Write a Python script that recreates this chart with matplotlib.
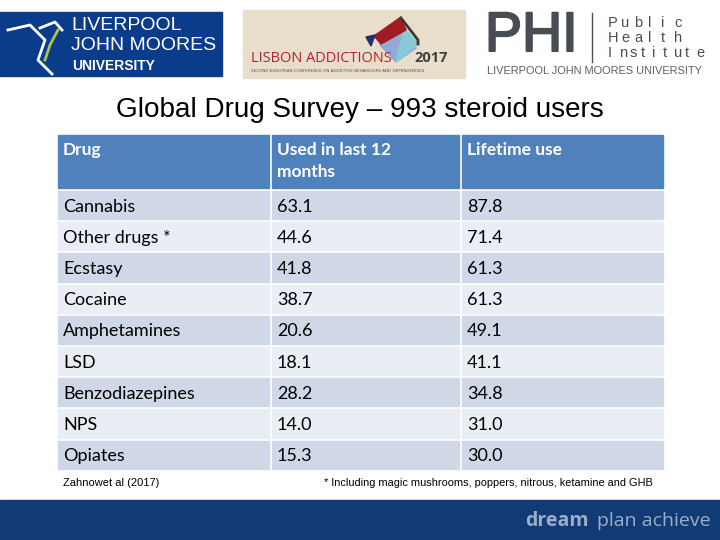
import matplotlib.pyplot as plt
import matplotlib.patheffects as pe
from matplotlib.patches import Rectangle, Polygon

# table data
headers = ["Drug", "Used in last 12\nmonths", "Lifetime use"]
drugs = ["Cannabis", "Other drugs *", "Ecstasy", "Cocaine", "Amphetamines",
         "LSD", "Benzodiazepines", "NPS", "Opiates"]
last_12 = ["63.1", "44.6", "41.8", "38.7", "20.6", "18.1", "28.2", "14.0", "15.3"]
lifetime = ["87.8", "71.4", "61.3", "61.3", "49.1", "41.1", "34.8", "31.0", "30.0"]

title = "Global Drug Survey \u2013 993 steroid users"
source = "Zahnowet al (2017)"
footnote = "* Including magic mushrooms, poppers, nitrous, ketamine and GHB"

fig = plt.figure(figsize=(7.2, 5.4), dpi=100)
ax = fig.add_axes([0, 0, 1, 1])
ax.set_xlim(0, 720)
ax.set_ylim(540, 0)
ax.axis("off")

# --- logos (simplified) ---
# LJMU
ax.add_patch(Rectangle((0, 12), 222, 64, color="#0B3C8C"))
ax.plot([8, 30, 45, 38, 52], [30, 25, 40, 60, 74], color="white", lw=2)
ax.plot([40, 55, 62], [28, 22, 30], color="white", lw=2)
ax.plot([45, 50, 58], [60, 45, 30], color="#A8C64A", lw=2)
ax.text(71, 25, "LIVERPOOL", color="white", fontsize=14, family="Liberation Sans",
        va="center")
ax.text(71, 46, "JOHN MOORES", color="white", fontsize=14, family="Liberation Sans",
        va="center")
ax.text(72, 66, "UNIVERSITY", color="white", fontsize=10, family="Liberation Sans",
        weight="bold", va="center")

# Lisbon Addictions
ax.add_patch(Rectangle((243, 10), 222, 68, color="#E9DDCB"))
ax.add_patch(Polygon([[380, 45], [404, 28], [416, 48], [396, 62]], color="#93A9D6"))
ax.add_patch(Polygon([[404, 28], [418, 44], [396, 62]], color="#8BC8D8"))
ax.add_patch(Polygon([[374, 36], [401, 17], [406, 30], [381, 44]], color="#A11B22"))
ax.add_patch(Polygon([[366, 37], [375, 35], [371, 46]], color="#23306B"))
ax.plot([401, 418, 418], [18, 40, 44], color="#3A3A3A", lw=2)
ax.text(251, 58, "LISBON ADDICTIONS", color="#B0272E", fontsize=10.5, family="Open Sans",
        va="center")
ax.text(414, 58, "2017", color="#404040", fontsize=10.5, family="Open Sans",
        weight="bold", va="center")
ax.text(251, 71, "SECOND EUROPEAN CONFERENCE ON ADDICTIVE BEHAVIOURS AND DEPENDENCIES",
        color="#555555", fontsize=3.0, family="DejaVu Sans", va="center")

# PHI
ax.text(485, 37, "PHI", color="#474D52", fontsize=40, family="Liberation Sans",
        va="center", path_effects=[pe.withStroke(linewidth=1.5, foreground="#474D52")])
ax.plot([592, 592], [13, 62], color="#474D52", lw=1)
word_ends = [674, 674, 696]
for i, word in enumerate(["Public", "Health", "Institute"]):
    step = (word_ends[i] - 608) / (len(word) - 1)
    for k, ch in enumerate(word):
        ax.text(608 + k * step, 23 + i * 15, ch, color="#474D52", fontsize=10.5,
                family="Liberation Sans", va="center")
ax.text(487, 71, "LIVERPOOL JOHN MOORES UNIVERSITY", color="#5A6066", fontsize=7.9,
        family="Liberation Sans", va="center")

# --- title ---
ax.text(360, 110, title, fontsize=20.1, family="Liberation Sans", ha="center",
        va="center", color="black")

# --- table ---
col_x = [56, 270, 460, 664]
header_top, header_bot = 135, 188
row_h = 31.2
gap = 1.5
header_color = "#4F81BD"
row_colors = ["#D0D8E8", "#E9EDF4"]

for j in range(3):
    ax.add_patch(Rectangle((col_x[j] + gap, header_top), col_x[j + 1] - col_x[j] - 2 * gap,
                           header_bot - header_top, color=header_color))
    ax.text(col_x[j] + 7, header_top + 7, headers[j], color="white", fontsize=12.5,
            family="Lato", weight="bold", va="top", linespacing=1.45)

columns = [drugs, last_12, lifetime]
for i in range(len(drugs)):
    top = header_bot + gap + i * row_h
    for j in range(3):
        ax.add_patch(Rectangle((col_x[j] + gap, top + gap), col_x[j + 1] - col_x[j] - 2 * gap,
                               row_h - 2 * gap, color=row_colors[i % 2]))
        ax.text(col_x[j] + 7, top + row_h / 2 + 1.5, columns[j][i], color="black",
                fontsize=13, family="Lato", va="center")

# --- footnotes ---
ax.text(63, 483, source, fontsize=8, family="Liberation Sans", va="center")
ax.text(653, 483, footnote, fontsize=7.9, family="Liberation Sans", va="center", ha="right")

# --- bottom band ---
ax.add_patch(Rectangle((0, 500), 720, 40, color="#123A75"))
ax.text(711, 521, "plan achieve", color="#9AAFCC", fontsize=14, family="Open Sans",
        ha="right", va="center")
ax.text(589, 521, "dream", color="#9AAFCC", fontsize=14, family="Open Sans",
        weight="bold", ha="right", va="center")

fig.savefig("out.png", dpi=100)
